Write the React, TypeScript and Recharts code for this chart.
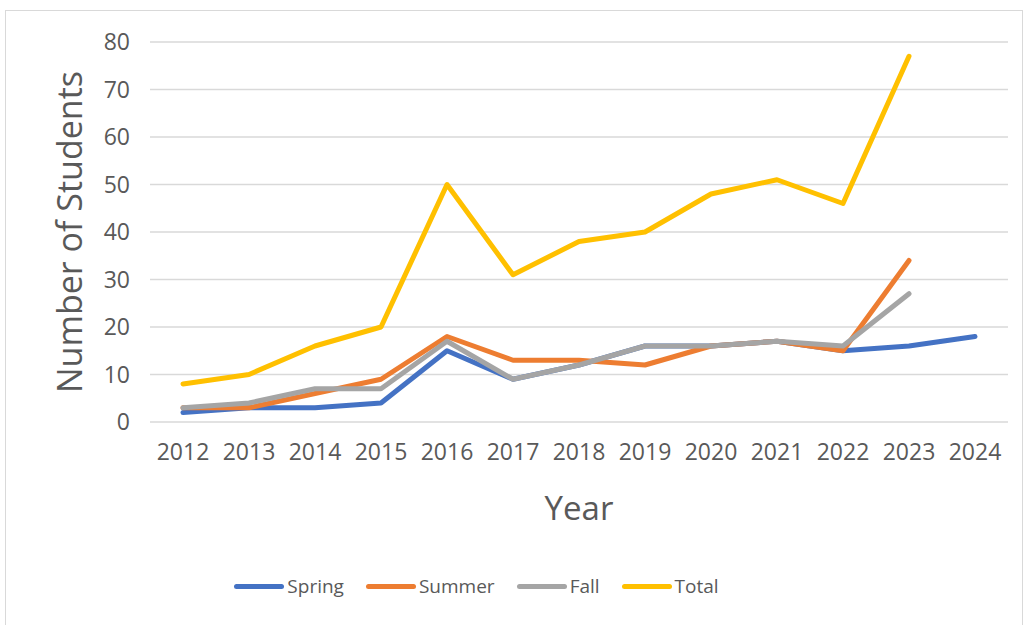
import React from 'react';
import { LineChart, Line, XAxis, YAxis, CartesianGrid, Legend } from 'recharts';

const years = ['2012', '2013', '2014', '2015', '2016', '2017', '2018', '2019', '2020', '2021', '2022', '2023', '2024'];
const spring = [2, 3, 3, 4, 15, 9, 12, 16, 16, 17, 15, 16, 18];
const summer = [3, 3, 6, 9, 18, 13, 13, 12, 16, 17, 15, 34, null];
const fall = [3, 4, 7, 7, 17, 9, 12, 16, 16, 17, 16, 27, null];
const total = [8, 10, 16, 20, 50, 31, 38, 40, 48, 51, 46, 77, null];
const yTicks = [0, 10, 20, 30, 40, 50, 60, 70, 80];

const SERIES = [
  { key: 'Spring', color: '#4472C4' },
  { key: 'Summer', color: '#ED7D31' },
  { key: 'Fall', color: '#A5A5A5' },
  { key: 'Total', color: '#FFC000' },
];

const data = years.map((year, i) => ({
  year,
  Spring: spring[i],
  Summer: summer[i],
  Fall: fall[i],
  Total: total[i],
}));

const FONT = '"Open Sans", sans-serif';
const TEXT = '#595959';

function LegendBox() {
  return (
    <div
      style={{
        height: 60,
        display: 'flex',
        justifyContent: 'center',
        alignItems: 'center',
        gap: 22,
        paddingRight: 61,
        fontFamily: FONT,
      }}
    >
      {SERIES.map((s) => (
        <div key={s.key} style={{ display: 'flex', alignItems: 'center' }}>
          <div style={{ width: 50, height: 5, borderRadius: 3, background: s.color, marginRight: 3 }} />
          <span style={{ fontSize: 19, color: TEXT }}>{s.key}</span>
        </div>
      ))}
    </div>
  );
}

export default function App() {
  return (
    <div
      style={{
        position: 'absolute',
        left: 5,
        top: 10,
        width: 1016,
        height: 620,
        border: '1px solid #d9d9d9',
        background: '#fff',
      }}
    >
      <LineChart width={1016} height={620} data={data} margin={{ top: 31, right: 14, left: 0, bottom: 15 }}>
        <CartesianGrid vertical={false} stroke="#d9d9d9" strokeWidth={1.5} />
        <XAxis
          dataKey="year"
          axisLine={false}
          tickLine={false}
          tickSize={0}
          tickMargin={22}
          height={134}
          padding={{ left: 33, right: 33 }}
          tick={{ fontSize: 23, fill: TEXT, fontFamily: FONT }}
          label={{
            value: 'Year',
            position: 'insideBottom',
            offset: 36,
            style: { fontSize: 33, fill: TEXT, fontFamily: FONT },
          }}
        />
        <YAxis
          domain={[0, 80]}
          ticks={yTicks}
          axisLine={false}
          tickLine={false}
          tickSize={0}
          tickMargin={20}
          width={144}
          tick={{ fontSize: 23, fill: TEXT, fontFamily: FONT }}
          label={{
            value: 'Number of Students',
            angle: -90,
            position: 'insideLeft',
            offset: 64,
            style: { fontSize: 34, fill: TEXT, fontFamily: FONT, textAnchor: 'middle' },
          }}
        />
        <Legend verticalAlign="bottom" content={() => <LegendBox />} />
        {SERIES.map((s) => (
          <Line
            key={s.key}
            type="linear"
            dataKey={s.key}
            stroke={s.color}
            strokeWidth={5}
            strokeLinecap="round"
            strokeLinejoin="round"
            dot={false}
            activeDot={false}
            isAnimationActive={false}
          />
        ))}
      </LineChart>
    </div>
  );
}
